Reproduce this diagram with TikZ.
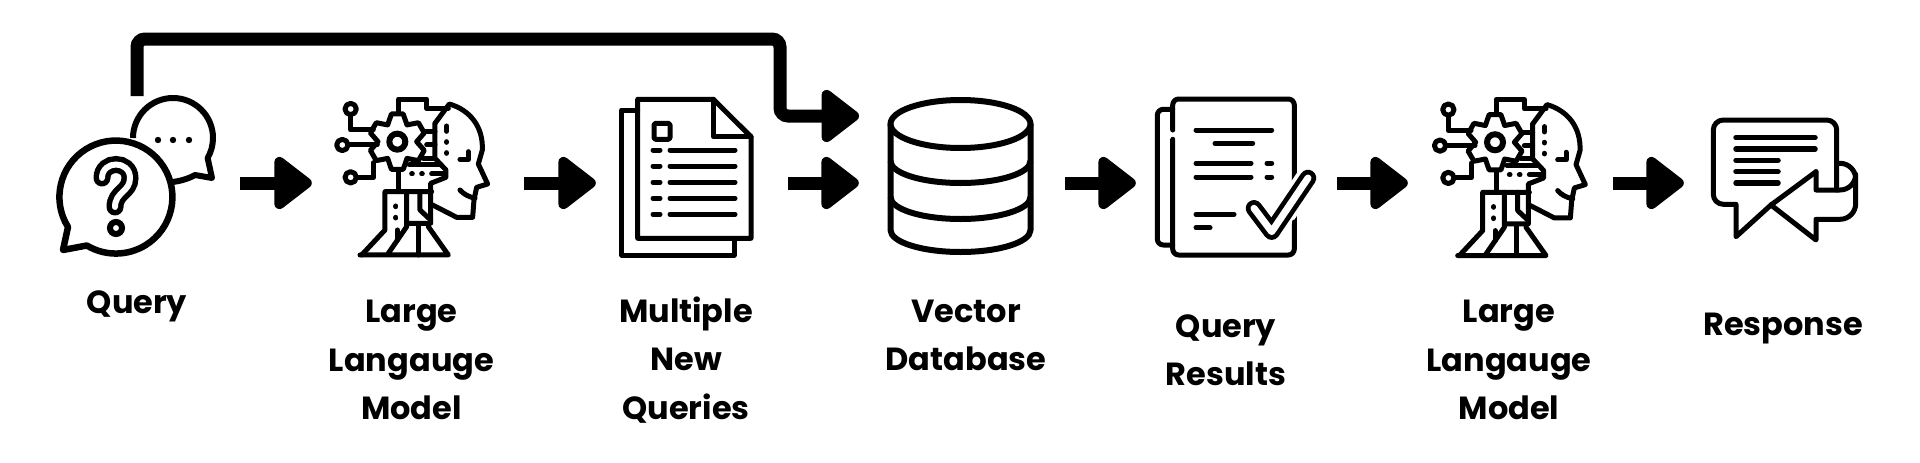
\documentclass[tikz,border=0pt]{standalone}
\usepackage{fontspec}
\setmainfont{Poppins}
\usetikzlibrary{arrows.meta}
\tikzset{
  iconbox/.style={rectangle, inner sep=0pt, minimum height=10pt},
  steplabel/.style={align=center, font=\fontsize{32}{48.5}\selectfont\bfseries, inner sep=0pt},
  flowarrow/.style={-{Triangle[round,line width=12pt,length=41pt,width=60pt]}, line width=13pt, draw=black},
  iconline/.style={line width=5pt, line cap=round, line join=round},
  iconthin/.style={line width=5.5pt, line cap=round},
  llmicon/.pic={
    \draw[iconline] (235,65) -- (235,27) -- (320,27) -- (320,55) -- (385,55);
    \draw[iconline] (345,100) -- (388,42) .. controls (450,60) and (490,110) .. (487,180) -- (475,222) -- (503,282) -- (470,292) -- (462,330) -- (458,382) -- (410,382) -- (338,345);
    \draw[iconline] (345,100) -- (345,205) -- (378,240) -- (378,262) -- (332,280) -- (332,400) -- (262,400);
    \draw[iconline] (295,125) -- (345,125) (320,165) -- (345,165) (310,205) -- (345,205);
    \draw[iconline] (268,225) -- (362,225);
    \begin{scope}[shift={(232,155)}]
      \draw[iconline,fill=white] (120:58)
        \foreach \a in {90,30,-30,-90,-150,-210} { -- (\a+12:85) -- (\a-12:85) -- (\a-30:58) } -- cycle;
      \draw[line width=6pt] (0,0) circle (24);
    \end{scope}
    \draw[iconline] (92,75) -- (92,120) -- (160,120);
    \draw[iconline] (85,165) -- (172,165);
    \draw[iconline] (110,262) -- (160,262) -- (160,218);
    \draw[iconline] (92,57) circle (17) (67,165) circle (17) (92,262) circle (17);
    \draw[iconline] (236,240) -- (236,305);
    \draw[iconline] (125,495) -- (195,420) -- (195,305) -- (335,305);
    \draw[iconline] (120,495) -- (385,495) -- (325,410);
    \draw[iconline] (260,305) -- (260,410) -- (205,490);
    \draw[iconline] (300,305) -- (300,360) -- (332,390);
    \draw[iconline] (295,405) -- (295,495);
    \draw[iconline] (232,420) -- (232,450);
    \draw[iconline] (228,348) -- (228,350) (228,382) -- (228,384);
    \draw[iconline] (275,252) -- (277,252) (305,252) -- (307,252) (335,252) -- (370,252);
    \draw[iconline] (380,108) -- (380,124) (380,155) -- (380,157) (380,188) -- (380,190);
    \draw[iconline] (445,185) -- (445,208) -- (420,208);
    \draw[iconline] (420,300) .. controls (430,312) and (445,320) .. (465,325);
  },
}
\begin{document}
\begin{tikzpicture}[x=1pt,y=-1pt]
  \useasboundingbox (0,0) rectangle (1920,463);

  % spans between arrow ends
  \node[iconbox, minimum width=184pt] (query) at (148,183) {};
  \node[iconbox, minimum width=212pt] (llmA) at (418,183) {};
  \node[iconbox, minimum width=192pt] (newq) at (692,183) {};
  \node[iconbox, minimum width=206pt] (vecdb) at (962,183) {};
  \node[iconbox, minimum width=201pt] (results) at (1236.5,183) {};
  \node[iconbox, minimum width=205pt] (llmB) at (1510.5,183) {};
  \node[iconbox, minimum width=100pt] (response) at (1734,183) {};
  \coordinate (loopstart) at (137,96);
  \coordinate (loopturn) at (780,39);
  \coordinate (loopend) at (859,116);

  % query bubbles
  \draw[line width=6pt, line join=round] (133,138) arc (180:390:40) -- (212,178) -- (195,175) .. controls (188,179) and (180,181) .. (173,182);
  \foreach \x in {158,173,189} { \fill (\x,140) circle (3.2); }
  \draw[line width=6.5pt, line join=round, fill=white] (68,227) arc (148:481:56.5) -- (63,250) -- cycle;
  \draw[line width=17pt, line cap=round] (102,178) .. controls (102,160) and (130,160) .. (130,178) .. controls (130,192) and (115,192) .. (115,207);
  \draw[line width=6pt, white, line cap=round] (102,178) .. controls (102,160) and (130,160) .. (130,178) .. controls (130,192) and (115,192) .. (115,207);
  \draw[line width=6pt] (116,228) circle (6);

  \begin{scope}[shift={(320,90)},x=0.3333pt,y=-0.3333pt]
    \pic {llmicon};
  \end{scope}
  \begin{scope}[shift={(1417.7,90.6)},x=0.3333pt,y=-0.3333pt]
    \pic {llmicon};
  \end{scope}

  % documents
  \draw[iconline] (637.7,110) -- (621.7,110) -- (621.7,255) -- (734.3,255) -- (734.3,240);
  \draw[iconline] (637.7,99.3) -- (713.3,99.3) -- (751,136.7) -- (751,238.3) -- (637.7,238.3) -- cycle;
  \draw[iconline] (713.3,99.3) -- (713.3,136.7) -- (751,136.7);
  \draw[iconline, rounded corners=1.5pt] (654,123.3) rectangle (670,139.3);
  \foreach \y in {150,166,182.3,198.3,214.3} { \draw[iconline] (653,\y) -- (660,\y) (670,\y) -- (735,\y); }

  % database
  \draw[line width=6pt] (960.5,124) ellipse (70 and 24);
  \draw[line width=6pt, line join=round] (890.5,124) -- (890.5,230) arc (180:0:70 and 22) -- (1030.5,124);
  \draw[line width=6pt] (890.5,161) arc (180:0:70 and 22);
  \draw[line width=6pt] (890.5,197) arc (180:0:70 and 22);

  % results page
  \draw[iconline, rounded corners=6pt] (1172.7,130) -- (1172.7,99) -- (1294.3,99) -- (1294.3,255) -- (1172.7,255) -- (1172.7,139.3);
  \draw[iconline, rounded corners=6pt] (1172.7,109.3) -- (1157.3,109.3) -- (1157.3,245) -- (1172.7,245);
  \draw[iconline] (1196,130) -- (1271.7,130) (1215,143.3) -- (1252.7,143.3);
  \foreach \y in {163.3,177} { \draw[iconline] (1196,\y) -- (1251,\y) (1267,\y) -- (1271.7,\y); }
  \draw[iconline] (1196,214.3) -- (1234,214.3) (1196,227.7) -- (1210,227.7);
  \draw[line width=24pt, white, line cap=round, line join=round] (1254,208.3) -- (1271.7,231.7) -- (1308,178);
  \draw[line width=16.5pt, line cap=round, line join=round] (1254,208.3) -- (1271.7,231.7) -- (1308,178);
  \draw[line width=7pt, white, line cap=round, line join=round] (1254,208.3) -- (1271.7,231.7) -- (1308,178);
  \draw[iconline] (1294.3,222) -- (1294.3,245);

  % response bubbles
  \draw[iconline] (1771.7,204.3) -- (1736,236.7) -- (1736,204.3) [rounded corners=10pt] -- (1713.3,204.3) -- (1713.3,120) -- (1836.7,120) [sharp corners] -- (1836.7,190);
  \draw[iconline] (1816,171.7) -- (1771,205) -- (1816,240) -- (1816,219.3) -- (1840,219.3) arc (90:0:15.7) -- (1855.7,179) arc (360:270:15.7) -- (1838,163.3);
  \draw[iconline] (1816,171.7) -- (1816,190) -- (1840,190) arc (90:0:15.7);
  \foreach \y/\e in {137.7/1815,149/1815,160.3/1778,171.7/1778,183/1778} { \draw[iconthin] (1736,\y) -- (\e,\y); }

  % connectors
  \draw[flowarrow] (query.east) -- (llmA.west);
  \draw[flowarrow] (llmA.east) -- (newq.west);
  \draw[flowarrow] (newq.east) -- (vecdb.west);
  \draw[flowarrow] (vecdb.east) -- (results.west);
  \draw[flowarrow] (results.east) -- (llmB.west);
  \draw[flowarrow] (llmB.east) -- (response.west);
  \draw[flowarrow, rounded corners=8pt] (loopstart) |- (loopturn) |- (loopend);

  % labels
  \node[steplabel] (queryLabel) at (137,306) {Query};
  \node[steplabel] (llmALabel) at (411.5,360) {Large\\Langauge\\Model};
  \node[steplabel] (newqLabel) at (686,360) {Multiple\\New\\Queries};
  \node[steplabel] (vecdbLabel) at (966,335.5) {Vector\\Database};
  \node[steplabel] (resultsLabel) at (1226,350) {Query\\Results};
  \node[steplabel] (llmBLabel) at (1509,360) {Large\\Langauge\\Model};
  \node[steplabel] (responseLabel) at (1783,329) {Response};
\end{tikzpicture}
\end{document}
